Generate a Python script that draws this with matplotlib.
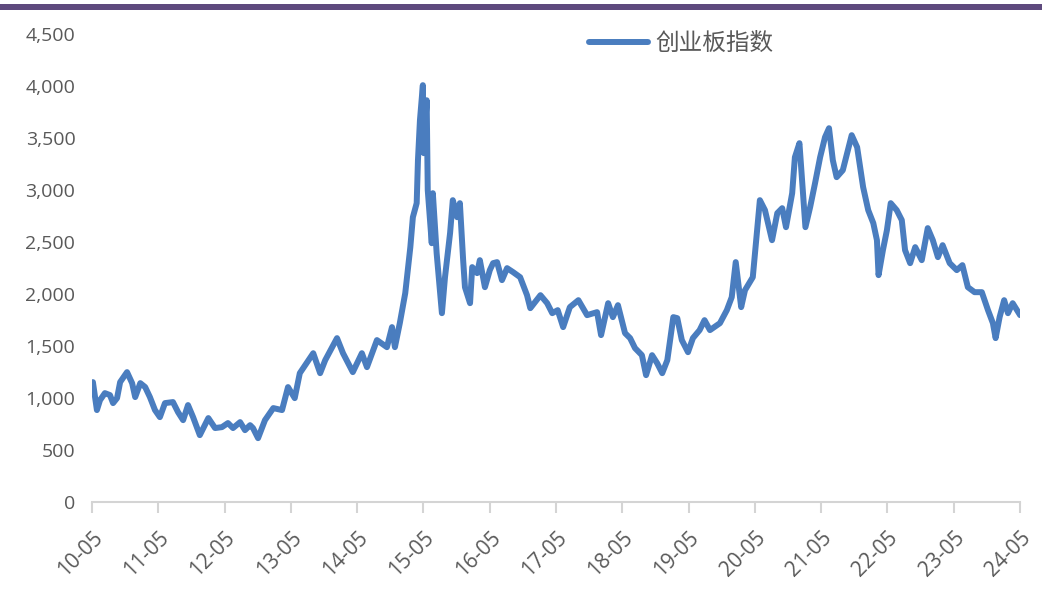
import matplotlib
matplotlib.use('Agg')
import matplotlib.pyplot as plt
import matplotlib.dates as mdates
from matplotlib.patches import Rectangle
import pandas as pd

plt.rcParams['font.family'] = ['Open Sans', 'Noto Sans CJK SC', 'DejaVu Sans']

# 创业板指数, values
dates = [
    "2010-05-06", "2010-05-28", "2010-06-14", "2010-07-11", "2010-08-08", "2010-08-25",
    "2010-09-16", "2010-10-03", "2010-11-10", "2010-12-08", "2010-12-25", "2011-01-22",
    "2011-02-18", "2011-03-16", "2011-04-13", "2011-05-10", "2011-06-07", "2011-07-21",
    "2011-08-18", "2011-09-15", "2011-10-12", "2011-11-09", "2011-12-16", "2012-02-01",
    "2012-03-09", "2012-04-16", "2012-05-19", "2012-06-16", "2012-07-25", "2012-08-21",
    "2012-09-18", "2012-10-04", "2012-11-01", "2012-12-09", "2013-01-24", "2013-03-13",
    "2013-04-15", "2013-05-22", "2013-06-19", "2013-09-01", "2013-10-09", "2013-11-06",
    "2014-01-10", "2014-02-12", "2014-04-07", "2014-05-27", "2014-06-24", "2014-08-18",
    "2014-10-12", "2014-11-09", "2014-11-25", "2014-12-22", "2015-01-21", "2015-02-18",
    "2015-03-04", "2015-03-25", "2015-04-01", "2015-04-12", "2015-04-28", "2015-05-03",
    "2015-05-19", "2015-05-25", "2015-06-16", "2015-06-22", "2015-07-13", "2015-08-01",
    "2015-08-11", "2015-08-28", "2015-09-25", "2015-10-10", "2015-11-03", "2015-11-18",
    "2015-12-06", "2015-12-16", "2016-01-13", "2016-01-25", "2016-02-21", "2016-03-07",
    "2016-04-04", "2016-05-01", "2016-05-19", "2016-06-10", "2016-07-07", "2016-08-04",
    "2016-09-06", "2016-10-15", "2016-11-22", "2016-12-10", "2017-02-04", "2017-03-13",
    "2017-04-10", "2017-05-10", "2017-06-09", "2017-07-16", "2017-09-01", "2017-10-19",
    "2017-12-13", "2018-01-04", "2018-02-12", "2018-03-10", "2018-04-07", "2018-05-16",
    "2018-06-13", "2018-07-10", "2018-08-17", "2018-09-09", "2018-10-12", "2018-11-09",
    "2018-12-07", "2019-01-04", "2019-02-06", "2019-02-28", "2019-03-25", "2019-04-28",
    "2019-05-25", "2019-07-01", "2019-07-28", "2019-08-27", "2019-10-21", "2019-11-28",
    "2019-12-25", "2020-01-16", "2020-02-15", "2020-03-07", "2020-04-19", "2020-05-28",
    "2020-06-25", "2020-08-03", "2020-09-01", "2020-09-28", "2020-10-19", "2020-11-22",
    "2020-12-07", "2021-01-01", "2021-02-03", "2021-03-01", "2021-03-28", "2021-04-25",
    "2021-05-22", "2021-06-13", "2021-07-04", "2021-07-25", "2021-08-28", "2021-10-16",
    "2021-11-15", "2021-12-18", "2022-01-15", "2022-02-12", "2022-03-04", "2022-03-13",
    "2022-04-06", "2022-04-28", "2022-05-19", "2022-06-21", "2022-07-19", "2022-08-06",
    "2022-09-03", "2022-10-01", "2022-11-06", "2022-12-09", "2023-01-06", "2023-02-03",
    "2023-03-01", "2023-04-09", "2023-05-18", "2023-06-18", "2023-07-18", "2023-08-24",
    "2023-10-03", "2023-11-06", "2023-12-03", "2023-12-18", "2024-01-09", "2024-02-03",
    "2024-02-24", "2024-03-21", "2024-05-01",
]
values = [
    1154, 885, 980, 1048, 1029, 952,
    1000, 1154, 1250, 1144, 1010, 1144,
    1106, 1010, 885, 817, 952, 962,
    865, 788, 933, 817, 644, 808,
    712, 721, 760, 712, 769, 692,
    740, 712, 615, 788, 904, 885,
    1106, 1000, 1240, 1432, 1240, 1365,
    1577, 1432, 1250, 1432, 1298, 1558,
    1490, 1683, 1490, 1721, 2010, 2452,
    2740, 2875, 3288, 3673, 4010, 3356,
    3865, 3000, 2490, 2971, 2394, 2010,
    1817, 2163, 2587, 2904, 2740, 2875,
    2327, 2067, 1913, 2260, 2202, 2327,
    2067, 2231, 2298, 2308, 2135, 2250,
    2212, 2163, 1990, 1865, 1990, 1913,
    1817, 1846, 1683, 1875, 1942, 1798,
    1827, 1606, 1913, 1779, 1894, 1625,
    1577, 1481, 1413, 1221, 1413, 1336,
    1240, 1365, 1779, 1769, 1558, 1442,
    1577, 1654, 1750, 1654, 1721, 1846,
    1971, 2308, 1875, 2038, 2163, 2904,
    2808, 2519, 2779, 2827, 2644, 2971,
    3317, 3452, 2644, 2837, 3067, 3317,
    3510, 3596, 3288, 3125, 3192, 3529,
    3413, 3029, 2808, 2683, 2519, 2183,
    2423, 2615, 2875, 2808, 2712, 2423,
    2298, 2452, 2327, 2635, 2519, 2356,
    2471, 2298, 2231, 2279, 2067, 2019,
    2019, 1846, 1721, 1577, 1779, 1942,
    1817, 1913, 1798,
]
series_name = "创业板指数"
tick_years = list(range(2010, 2025))
y_ticks = list(range(0, 4501, 500))

x = pd.to_datetime(dates)

fig = plt.figure(figsize=(10.42, 5.90), dpi=100)
ax = fig.add_axes([0.0883, 0.149, 0.8907, 0.793])

ax.plot(x, values, color='#4a7dbf', linewidth=4.3, solid_joinstyle='round',
        solid_capstyle='round', label=series_name)

ticks = [pd.Timestamp(f"{yr}-05-01") for yr in tick_years]
ax.set_xlim(ticks[0], ticks[-1])
ax.set_xticks(ticks)
ax.xaxis.set_major_formatter(mdates.DateFormatter('%y-%m'))
ax.set_ylim(0, 4500)
ax.set_yticks(y_ticks)
ax.set_yticklabels([f"{v:,}" for v in y_ticks])

for s in ['top', 'right', 'left']:
    ax.spines[s].set_visible(False)
ax.spines['bottom'].set_color('#d4d4d4')
ax.spines['bottom'].set_linewidth(1.5)
ax.tick_params(axis='x', direction='out', length=8, width=1.5, color='#d4d4d4',
               labelsize=15, labelcolor='#595959', pad=10)
ax.tick_params(axis='y', length=0, labelsize=14, labelcolor='#595959', pad=12)
for lbl in ax.get_xticklabels():
    lbl.set_rotation(45)
    lbl.set_ha('right')
    lbl.set_rotation_mode('anchor')

leg = ax.legend(loc='upper left', bbox_to_anchor=(0.513, 1.05), frameon=False,
                handlelength=2.5, handletextpad=0.3,
                prop={'family': ['Noto Sans CJK SC', 'DejaVu Sans'], 'size': 17})
for t in leg.get_texts():
    t.set_color('#595959')

# purple band along the top edge
fig.add_artist(Rectangle((0, 0.983), 1, 0.011, transform=fig.transFigure,
                         color='#5e4a7e', linewidth=0))

fig.savefig('out.png', dpi=100)
